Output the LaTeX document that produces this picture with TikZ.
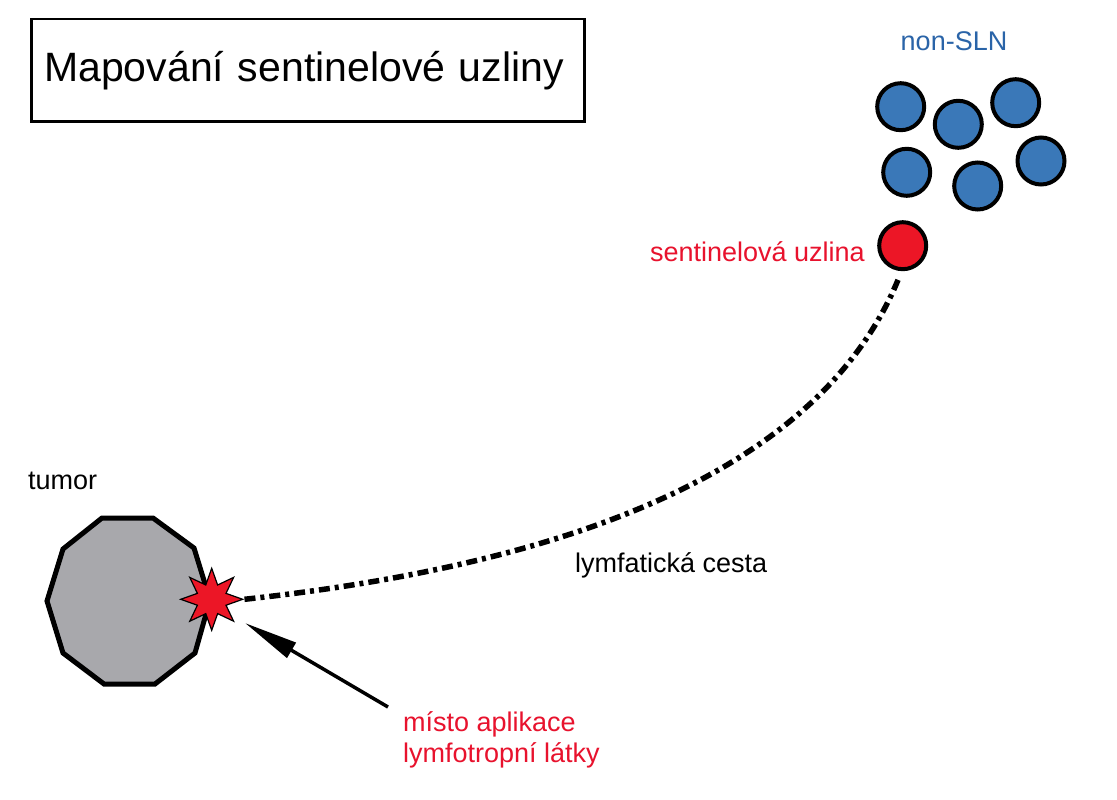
\documentclass[tikz,border=0pt]{standalone}
\usepackage{fontspec}
\setmainfont{Liberation Sans}
\usetikzlibrary{shapes.geometric,arrows.meta}
\definecolor{nodered}{RGB}{236,22,38}
\definecolor{txtred}{RGB}{232,18,45}
\definecolor{nodeblue}{RGB}{58,120,184}
\definecolor{txtblue}{RGB}{42,100,168}
\definecolor{tumorgray}{RGB}{168,168,172}
\begin{document}
\begin{tikzpicture}[x=1pt,y=-1pt,
  lbl/.style={font=\fontsize{27}{31}\selectfont, inner sep=0pt, anchor=base west},
  lymphnode/.style={circle, draw=black, line width=4pt, minimum size=47pt, inner sep=0pt},
  bluenode/.style={lymphnode, fill=nodeblue},
  sentnode/.style={lymphnode, fill=nodered},
  lymphpath/.style={line width=5.5pt, dash pattern=on 11pt off 5pt on 4pt off 5pt},
  pointer/.style={line width=3.5pt, -{Triangle[length=54pt,width=17pt]}}
]
\useasboundingbox (0,0) rectangle (1117,800);
\fill[white] (0,0) rectangle (1117,800);

% title
\node (title) [draw, line width=2.5pt, anchor=north west, minimum height=102pt,
  text width=527pt, inner xsep=13pt, align=left,
  font=\fontsize{41}{49}\selectfont] at (30,18) {Mapování sentinelové uzliny};

% non-SLN nodes
\node (n1) [bluenode] at (900.7,106.7) {};
\node (n2) [bluenode] at (958.3,124.3) {};
\node (n3) [bluenode] at (1015.7,102.7) {};
\node (n4) [bluenode] at (906.7,172.3) {};
\node (n5) [bluenode] at (977.7,186) {};
\node (n6) [bluenode] at (1041,161) {};
\node (nonsln) [lbl, text=txtblue, anchor=base] at (954,51) {non-SLN};

% sentinel node
\node (sln) [sentnode] at (902.7,245.7) {};
\node (slnlbl) [lbl, text=txtred, anchor=base east] at (865,261) {sentinelová uzlina};

% tumor
\draw[line width=5pt, fill=tumorgray] (102,518) -- (153,518) -- (194,548) -- (210,600)
  -- (195,653) -- (155,684) -- (104,684) -- (63,653) -- (47,601) -- (63,549) -- cycle;
\node (tumorlbl) [lbl] at (28,489) {tumor};

% injection site
\node (star) [star, star points=8, star point ratio=2, minimum size=62pt, inner sep=0pt,
  fill=nodered, draw=black, line width=1.2pt] at (211.7,599.3) {};

% lymphatic path
\draw[lymphpath] (star.east) .. controls (589,562) and (824,462) .. ([shift={(-4pt,-7pt)}]sln.south);
\node (pathlbl) [lbl] at (575,572) {lymfatická cesta};

% application label and arrow
\node (applbl) [lbl, text=txtred, align=left] at (403,762) {místo aplikace\\lymfotropní látky};
\coordinate (arrtail) at (388,707);
\coordinate (arrtip) at (245,623);
\draw[pointer] (arrtail) -- (arrtip);
\end{tikzpicture}
\end{document}
